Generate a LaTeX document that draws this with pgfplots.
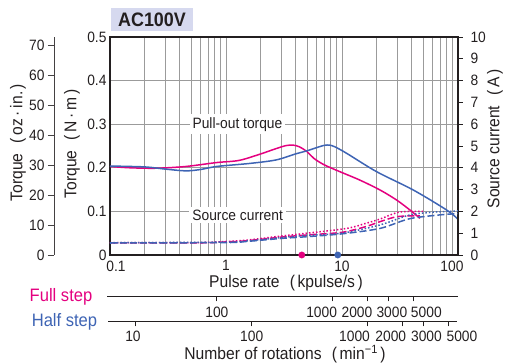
\documentclass[border=0pt]{standalone}
\usepackage{fontspec}
\setmainfont{Liberation Sans}[FakeStretch=0.92]
\usepackage{pgfplots}
\pgfplotsset{compat=1.18}

\definecolor{txt}{HTML}{231F20}
\definecolor{mag}{HTML}{E4007F}
\definecolor{blu}{HTML}{3E64B4}
\definecolor{gridgray}{HTML}{9B9B9B}
\definecolor{titlebg}{HTML}{D6D9EF}

% full-width style brackets as in the original
\newcommand\lp{\hspace{0.6em}(\hspace{0.15em}}
\newcommand\rp{\hspace{0.15em})}
\newcommand\lab{\fontsize{15}{15}\selectfont}
\newcommand\ttl{\fontsize{17}{17}\selectfont}

\pgfplotsset{
  base/.style={
    scale only axis,
    /pgf/number format/assume math mode=true,
    tick label style={font=\lab, text=txt},
  },
}

\begin{document}
\begin{tikzpicture}[x=1pt,y=1pt]

% outer torque axis in oz-in
\begin{axis}[base,
  at={(54pt,108pt)}, anchor=south west,
  width=10pt, height=218pt,
  xmin=0, xmax=1, ymin=0, ymax=72.7,
  axis x line=none, axis y line=left,
  ytick={0,10,...,70},
  tick align=outside, major tick length=6pt,
  tick style={txt!85, line width=0.9pt},
  axis line style={-, line width=1pt, txt!85},
]
\end{axis}

% main torque axis (N m)
\begin{axis}[base,
  at={(110pt,108pt)}, anchor=south west,
  width=348pt, height=218pt,
  xmode=log, xmin=0.1, xmax=100, ymin=0, ymax=0.5,
  xtick={0.1,1,10,100},
  xticklabels={\hspace*{12pt}0.1,1,10,100\hspace*{12pt}},
  xticklabel style={yshift=-2pt},
  ytick={0,0.1,0.2,0.3,0.4,0.5}, yticklabels={0,0.1,0.2,0.3,0.4,0.5},
  grid=both,
  major grid style={gridgray, line width=0.9pt},
  minor grid style={gridgray, line width=0.9pt},
  major tick length=0pt, minor tick length=0pt,
  axis line style={line width=1.4pt, txt},
  clip=false,
]
  \node[fill=white, inner sep=3pt, text=txt, font=\lab] at (axis cs:1.256,0.3) {Pull-out torque};
  \node[fill=white, inner sep=3pt, text=txt, font=\lab] at (axis cs:1.26,0.092) {Source current};

  % pull-out torque, full step
  \addplot[mag, line width=1.5pt, smooth] coordinates {
    (0.1,0.203) (0.15,0.200) (0.25,0.199) (0.45,0.203) (0.83,0.212)
    (1.3,0.217) (2.0,0.232) (2.7,0.244) (3.3,0.251) (3.8,0.252)
    (4.3,0.248) (5.0,0.237) (5.7,0.222) (7.0,0.207) (9.6,0.191)
    (14.2,0.172) (21.3,0.149) (29.6,0.126) (38.6,0.103) (47,0.084)
  };
  % pull-out torque, half step
  \addplot[blu, line width=1.5pt, smooth] coordinates {
    (0.1,0.204) (0.2,0.202) (0.3,0.197) (0.45,0.193) (0.6,0.196)
    (0.83,0.203) (1.6,0.210) (2.7,0.218) (4.0,0.232) (5.0,0.239)
    (6.9,0.251) (7.8,0.252) (8.7,0.248) (11,0.233) (19.9,0.191)
    (41.2,0.149) (80,0.103) (100,0.082)
  };
  % starting pulse rates
  \addplot[only marks, mark=*, mark size=3.2pt, mag] coordinates {(4.5,0)};
  \addplot[only marks, mark=*, mark size=3.2pt, blu] coordinates {(9.2,0)};
\end{axis}

% source current axis (A)
\begin{axis}[base,
  at={(110pt,108pt)}, anchor=south west,
  width=348pt, height=218pt,
  xmode=log, xmin=0.1, xmax=100, ymin=0, ymax=10,
  axis x line=none, axis y line*=right,
  ytick={0,1,...,10},
  yticklabel style={xshift=4pt},
  tick align=outside, major tick length=5pt,
  tick style={txt, line width=0.9pt},
  axis line style={-, line width=1.4pt, txt},
]
  \addplot[mag, line width=1.5pt, dotted, smooth] coordinates {
    (0.1,0.57) (0.6,0.57) (1,0.62) (1.5,0.68) (3,0.87) (5,1.0)
    (11,1.22) (16,1.45) (21.3,1.65) (30,1.95) (40,2.0) (50,2.0)
  };
  \addplot[mag, line width=1.5pt, dash pattern=on 7pt off 3pt, smooth] coordinates {
    (0.1,0.56) (0.6,0.56) (1,0.6) (1.5,0.65) (3,0.82) (5,0.92)
    (10,1.04) (16,1.3) (21.3,1.53) (30,1.76) (47,1.8)
  };
  \addplot[blu, line width=1.5pt, dotted, smooth] coordinates {
    (0.1,0.56) (1,0.59) (1.5,0.64) (3,0.8) (5,0.9) (10,1.0)
    (21.3,1.38) (38,1.83) (60,1.96) (100,2.02)
  };
  \addplot[blu, line width=1.5pt, dash pattern=on 7pt off 3pt, smooth] coordinates {
    (0.1,0.55) (1,0.57) (1.5,0.62) (3,0.76) (5,0.84) (10,0.97)
    (21.3,1.22) (38,1.66) (70,1.84) (100,1.9)
  };
\end{axis}

% rotation speed, full step (500 pulses/rev)
\begin{axis}[base,
  at={(107pt,66.5pt)}, anchor=south west,
  width=351pt, height=5pt,
  xmode=log, xmin=11.29, xmax=12000, ymin=0, ymax=1,
  axis y line=none, axis x line=bottom,
  xtick={100,1000,2000,3000,5000}, xticklabels={},
  xminorticks=false,
  tick align=outside, major tick length=5pt,
  tick style={txt, line width=0.9pt},
  axis line style={-, line width=1.3pt, txt},
  clip=false,
]
  \node[font=\lab, text=txt, yshift=-15.5pt] at (axis cs:100,0) {100};
  \node[font=\lab, text=txt, yshift=-15.5pt] at (axis cs:800,0) {1000};
  \node[font=\lab, text=txt, yshift=-15.5pt] at (axis cs:1614,0) {2000};
  \node[font=\lab, text=txt, yshift=-15.5pt] at (axis cs:3230,0) {3000};
  \node[font=\lab, text=txt, yshift=-15.5pt] at (axis cs:6400,0) {5000};
\end{axis}

% rotation speed, half step (1000 pulses/rev)
\begin{axis}[base,
  at={(108pt,41.5pt)}, anchor=south west,
  width=349pt, height=5pt,
  xmode=log, xmin=5.763, xmax=5881, ymin=0, ymax=1,
  axis y line=none, axis x line=bottom,
  xtick={10,100,1000,2000,3000,5000}, xticklabels={},
  xminorticks=false,
  tick align=outside, major tick length=5pt,
  tick style={txt, line width=0.9pt},
  axis line style={-, line width=1.3pt, txt},
  clip=false,
]
  \node[font=\lab, text=txt, yshift=-15pt] at (axis cs:9.46,0) {10};
  \node[font=\lab, text=txt, yshift=-15pt] at (axis cs:100,0) {100};
  \node[font=\lab, text=txt, yshift=-15pt] at (axis cs:769,0) {1000};
  \node[font=\lab, text=txt, yshift=-15pt] at (axis cs:1580,0) {2000};
  \node[font=\lab, text=txt, yshift=-15pt] at (axis cs:3209,0) {3000};
  \node[font=\lab, text=txt, yshift=-15pt] at (axis cs:6495,0) {5000};
\end{axis}

\node[fill=titlebg, minimum width=82pt, minimum height=22.5pt, text=txt,
      font=\bfseries\fontsize{19.5}{19.5}\selectfont] at (152,343.5) {AC100V};
\node[rotate=90, text=txt, font=\ttl] at (18,220.5) {Torque\lp oz\,·\,in.\rp};
\node[rotate=90, text=txt, font=\ttl] at (72,219) {Torque\lp N\,·\,m\rp};
\node[rotate=90, text=txt, font=\ttl] at (495,224) {Source current\lp A\rp};
\node[text=txt, font=\ttl] at (286,80) {Pulse rate\lp kpulse/s\rp};
\node[text=txt, font=\ttl] at (285,9) {Number of rotations\lp min\textsuperscript{−1}\rp};
\node[text=mag, font=\fontsize{18}{18}\selectfont] at (61,66) {Full step};
\node[text=blu, font=\fontsize{18}{18}\selectfont] at (64.5,41) {Half step};

\pgfresetboundingbox
\path (0,0) rectangle (507,363);
\end{tikzpicture}
\end{document}
